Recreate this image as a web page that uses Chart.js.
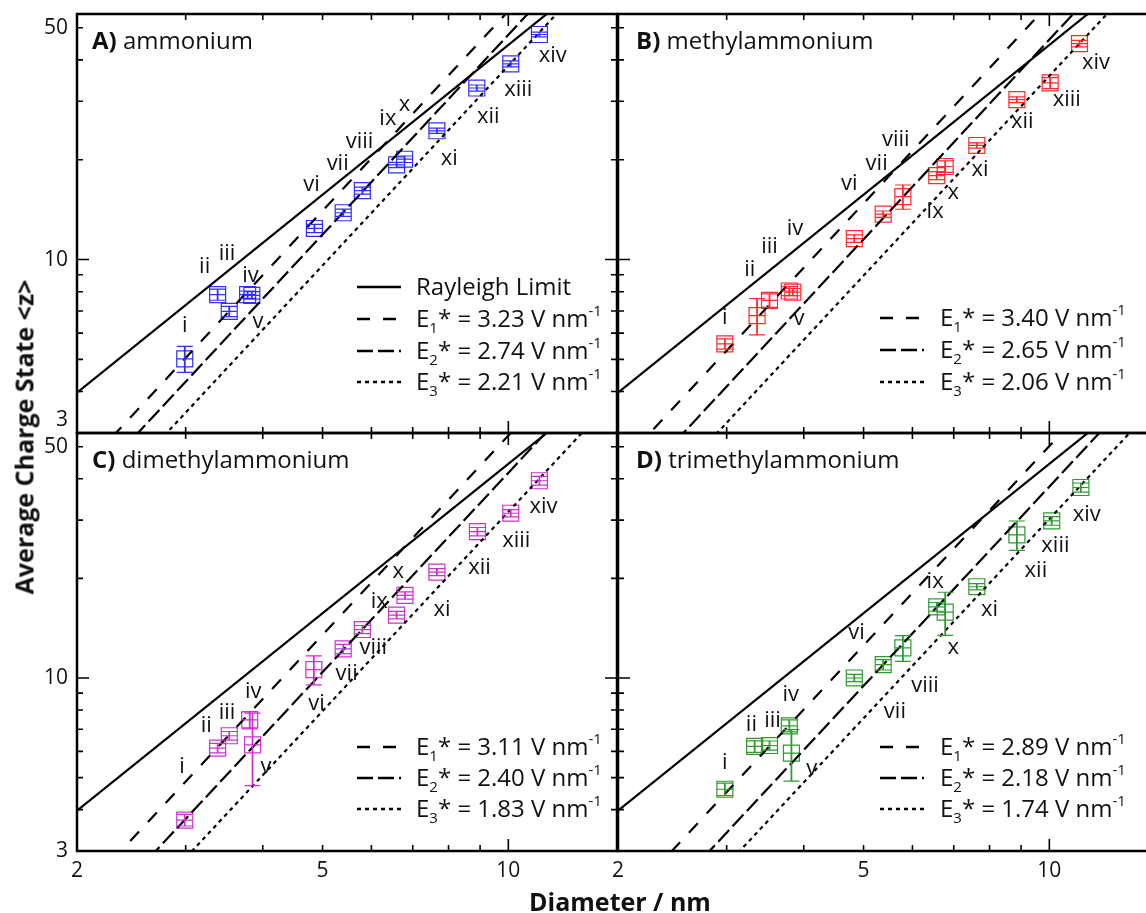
<!DOCTYPE html>
<html>
<head>
<meta charset="utf-8">
<script src="https://cdn.jsdelivr.net/npm/chart.js@4.4.0/dist/chart.umd.min.js"></script>
<style>
html, body { margin: 0; padding: 0; background: #fff; }
#wrap { position: relative; width: 1146px; height: 913px; overflow: hidden; font-family: "Open Sans", sans-serif; color: #111; }
#wrap canvas { position: absolute; left: 0; top: 0; }
.txt { position: absolute; white-space: nowrap; font-size: 24px; line-height: 24px; }
.txt b { font-weight: 700; }
.txt sub, .txt sup { position: relative; vertical-align: baseline; font-size: 15px; line-height: 0; }
.txt sub { top: 6px; }
.txt sup { top: -11px; }
.axtitle { position: absolute; white-space: nowrap; font-weight: 700; font-size: 25px; line-height: 25px; }
</style>
</head>
<body>
<div id="wrap">
  <canvas id="panelA" width="1160" height="913"></canvas>
  <canvas id="panelB" width="1160" height="913"></canvas>
  <canvas id="panelC" width="1160" height="913"></canvas>
  <canvas id="panelD" width="1160" height="913"></canvas>
  <div class="axtitle" style="left:620px; top:889px; transform:translateX(-50%);">Diameter / nm</div>
  <div class="axtitle" style="left:24px; top:437px; transform:translate(-50%,-50%) rotate(-90deg);">Average Charge State &lt;z&gt;</div>
</div>
<script>
// axis ticks (shared by all panels)
const diameterTicks = [2, 3, 4, 5, 6, 7, 8, 9, 10];
const diameterLabels = [2, 5, 10];
const chargeTicks = [3, 4, 5, 6, 7, 8, 9, 10, 20, 30, 40, 50];
const chargeLabels = [3, 10, 50];
const romans = ['i', 'ii', 'iii', 'iv', 'v', 'vi', 'vii', 'viii', 'ix', 'x', 'xi', 'xii', 'xiii', 'xiv'];

// model lines are straight on log-log axes: values read at d = 2 and d = 15 nm
const lineEnds = [2, 15];
const rayleighZ = [3.97, 81.5];

// A) ammonium
const dA = [2.99, 3.38, 3.53, 3.78, 3.84, 4.85, 5.40, 5.80, 6.59, 6.79, 7.66, 8.89, 10.09, 11.23];
const zA = [5.02, 7.84, 6.98, 7.84, 7.80, 12.41, 13.84, 16.14, 19.29, 20.07, 24.45, 32.9, 38.9, 47.7];
const zErrA = [0.45, 0.3, 0.25, 0.2, 0.2, 0.35, 0.35, 0.4, 0.35, 0.45, 0.45, 0.7, 0.8, 0.8];
const labDA = [2.99, 3.22, 3.50, 3.82, 3.93, 4.80, 5.29, 5.74, 6.38, 6.79, 8.02, 9.28, 10.38, 11.8];
const labZA = [6.33, 9.5, 10.4, 8.96, 6.48, 16.78, 19.5, 22.7, 26.5, 29.3, 20.2, 26.9, 32.5, 41.3];
const fieldA = [3.23, 2.74, 2.21];
const eLinesA = [[2.244, 126.3], [1.904, 107.1], [1.536, 86.4]];

// B) methylammonium
const dB = [2.98, 3.36, 3.52, 3.79, 3.84, 4.83, 5.38, 5.79, 6.57, 6.78, 7.63, 8.86, 10.03, 11.19];
const zB = [5.57, 6.78, 7.53, 8.04, 7.98, 11.57, 13.71, 15.48, 17.92, 19.08, 22.08, 30.34, 34.08, 44.8];
const zErrB = [0.2, 0.85, 0.35, 0.25, 0.2, 0.3, 0.3, 1.3, 0.5, 0.75, 0.4, 0.6, 1.3, 1.0];
const labDB = [2.98, 3.27, 3.52, 3.87, 3.93, 4.74, 5.25, 5.64, 6.53, 6.99, 7.72, 9.04, 10.67, 11.9];
const labZB = [6.68, 9.33, 10.93, 12.41, 6.63, 16.98, 19.42, 22.98, 13.94, 15.91, 18.62, 26.11, 30.23, 39.3];
const fieldB = [3.40, 2.65, 2.06];
const eLinesB = [[2.362, 132.9], [1.841, 103.6], [1.431, 80.5]];

// C) dimethylammonium
const dC = [2.99, 3.38, 3.53, 3.81, 3.85, 4.84, 5.40, 5.80, 6.59, 6.80, 7.66, 8.91, 10.09, 11.23];
const zC = [3.72, 6.14, 6.69, 7.47, 6.28, 10.6, 12.24, 14.01, 15.49, 17.76, 20.9, 27.7, 31.47, 39.45];
const zErrC = [0.15, 0.2, 0.2, 0.45, 1.55, 1.07, 0.4, 0.4, 0.4, 0.45, 0.5, 0.8, 0.8, 1.2];
const labDC = [2.96, 3.24, 3.50, 3.86, 4.05, 4.89, 5.47, 6.04, 6.18, 6.63, 7.81, 8.98, 10.3, 11.4];
const labZC = [5.40, 7.17, 7.87, 9.11, 5.40, 8.36, 10.3, 12.33, 16.97, 20.9, 16.03, 21.54, 25.95, 32.98];
const fieldC = [3.11, 2.40, 1.83];
const eLinesC = [[2.161, 121.5], [1.667, 93.8], [1.271, 71.5]];

// D) trimethylammonium
const dD = [2.98, 3.33, 3.52, 3.79, 3.82, 4.83, 5.38, 5.79, 6.57, 6.78, 7.63, 8.86, 10.09, 11.25];
const zD = [4.61, 6.21, 6.25, 7.17, 5.93, 10.0, 10.97, 12.33, 16.41, 15.81, 18.87, 27.06, 29.85, 37.64];
const zErrD = [0.2, 0.25, 0.2, 0.3, 1.05, 0.25, 0.4, 1.1, 0.5, 2.35, 0.4, 2.75, 0.9, 1.2];
const labDD = [2.98, 3.29, 3.56, 3.81, 4.12, 4.87, 5.62, 6.29, 6.53, 6.99, 8.0, 9.51, 10.23, 11.5];
const labZD = [5.53, 7.22, 7.44, 8.90, 5.3, 13.69, 7.93, 9.5, 19.5, 12.33, 16.1, 21.05, 25.18, 31.04];
const fieldD = [2.89, 2.18, 1.74];
const eLinesD = [[2.008, 112.9], [1.515, 85.2], [1.209, 68.0]];

// diameter uncertainty (same size bins i-xiv in every panel)
const dErr = [0.09, 0.1, 0.1, 0.11, 0.11, 0.14, 0.16, 0.17, 0.19, 0.2, 0.22, 0.26, 0.29, 0.32];

const W = 1160, H = 913;
const YAXIS_W = 60, XAXIS_H = 45;
const dashes = [[13, 13], [16, 5], [4, 4]];
const FONT = '"Open Sans", sans-serif';

function decoPlugin(p) {
    return {
        id: 'deco',
        afterDatasetsDraw(chart) {
            const ctx = chart.ctx, a = chart.chartArea;
            const x = chart.scales.x, y = chart.scales.y;
            ctx.save();
            // error bars
            ctx.strokeStyle = p.color;
            p.d.forEach((d, i) => {
                const px = x.getPixelForValue(d);
                const py = y.getPixelForValue(p.z[i]);
                const y0 = y.getPixelForValue(p.z[i] - p.zErr[i]);
                const y1 = y.getPixelForValue(p.z[i] + p.zErr[i]);
                ctx.lineWidth = 1.8;
                ctx.beginPath();
                ctx.moveTo(px, y0); ctx.lineTo(px, y1);
                ctx.stroke();
                ctx.lineWidth = 1.2;
                ctx.beginPath();
                ctx.moveTo(px - 8, y0); ctx.lineTo(px + 8, y0);
                ctx.moveTo(px - 8, y1); ctx.lineTo(px + 8, y1);
                ctx.moveTo(x.getPixelForValue(d - dErr[i]), py);
                ctx.lineTo(x.getPixelForValue(d + dErr[i]), py);
                ctx.stroke();
            });
            // point labels
            ctx.fillStyle = '#111';
            ctx.font = '22px ' + FONT;
            ctx.textAlign = 'center';
            ctx.textBaseline = 'middle';
            romans.forEach((r, i) => {
                ctx.fillText(r, x.getPixelForValue(p.labD[i]), y.getPixelForValue(p.labZ[i]));
            });
            // frame with inward ticks
            ctx.strokeStyle = '#000';
            ctx.lineWidth = 2.5;
            ctx.beginPath();
            ctx.rect(a.left, a.top, a.right - a.left, a.bottom - a.top);
            ctx.stroke();
            ctx.lineWidth = 1.6;
            ctx.beginPath();
            diameterTicks.forEach(v => {
                const px = x.getPixelForValue(v);
                const len = v === 10 ? 12 : 6;
                ctx.moveTo(px, a.bottom); ctx.lineTo(px, a.bottom - len);
                ctx.moveTo(px, a.top); ctx.lineTo(px, a.top + len);
            });
            chargeTicks.forEach(v => {
                const py = y.getPixelForValue(v);
                const len = v === 10 ? 12 : 6;
                ctx.moveTo(a.left, py); ctx.lineTo(a.left + len, py);
                ctx.moveTo(a.right, py); ctx.lineTo(a.right - len, py);
            });
            ctx.stroke();
            ctx.restore();
        }
    };
}

function makePanel(p) {
    const datasets = [{
        data: lineEnds.map((d, i) => ({ x: d, y: rayleighZ[i] })),
        showLine: true, borderColor: '#000', borderWidth: 2.2, pointRadius: 0
    }];
    p.eLines.forEach((ends, k) => {
        datasets.push({
            data: lineEnds.map((d, i) => ({ x: d, y: ends[i] })),
            showLine: true, borderColor: '#000', borderWidth: 2.2, borderDash: dashes[k], pointRadius: 0
        });
    });
    datasets.push({
        data: p.d.map((d, i) => ({ x: d, y: p.z[i] })),
        showLine: false, pointStyle: 'rect', pointRadius: 11.3,
        borderColor: p.color, backgroundColor: 'rgba(0,0,0,0)', borderWidth: 1.2
    });

    const yW = p.yLabels ? YAXIS_W : 0;
    const xH = p.xLabels ? XAXIS_H : 0;
    new Chart(document.getElementById(p.id), {
        type: 'scatter',
        data: { datasets: datasets },
        options: {
            responsive: false,
            animation: false,
            devicePixelRatio: 1,
            events: [],
            layout: {
                autoPadding: false,
                padding: { left: p.area[0] - yW, top: p.area[1], right: W - p.area[2], bottom: H - p.area[3] - xH }
            },
            plugins: { legend: { display: false }, tooltip: { enabled: false } },
            scales: {
                x: {
                    type: 'logarithmic', min: 2, max: 15,
                    grid: { display: false, drawTicks: false }, border: { display: false },
                    afterBuildTicks: s => { s.ticks = diameterTicks.map(v => ({ value: v })); },
                    afterFit: s => { s.height = xH; s.paddingLeft = 0; s.paddingRight = 0; },
                    ticks: {
                        display: p.xLabels, autoSkip: false, maxRotation: 0, padding: 7, color: '#111',
                        font: { family: FONT, size: 21 },
                        callback: v => diameterLabels.includes(v) ? String(v) : ''
                    }
                },
                y: {
                    type: 'logarithmic', min: 3, max: 55,
                    grid: { display: false, drawTicks: false }, border: { display: false },
                    afterBuildTicks: s => { s.ticks = chargeTicks.map(v => ({ value: v })); },
                    afterFit: s => { s.width = yW; s.paddingTop = 0; s.paddingBottom = 0; },
                    ticks: {
                        display: p.yLabels, autoSkip: false, padding: 9, color: '#111',
                        font: { family: FONT, size: 21 },
                        // the lowest label of an upper panel is lifted clear of the panel below
                        callback: v => chargeLabels.includes(v) ? (v === 3 && p.upper ? ['3', ''] : String(v)) : ''
                    }
                }
            }
        },
        plugins: [decoPlugin(p)]
    });

    // panel title and legend as page text
    const wrap = document.getElementById('wrap');
    const title = document.createElement('div');
    title.className = 'txt';
    title.style.left = p.titleX + 'px';
    title.style.top = (p.area[1] + 35 - 21.3) + 'px';
    title.innerHTML = '<b>' + p.letter + ')</b> ' + p.name;
    wrap.appendChild(title);

    const rows = [];
    if (p.rayleigh) rows.push({ dash: [], html: 'Rayleigh Limit' });
    p.field.forEach((e, k) => rows.push({
        dash: dashes[k],
        html: 'E<sub>' + (k + 1) + '</sub>* = ' + e.toFixed(2) + ' V nm<sup>-1</sup>'
    }));
    rows.forEach((r, k) => {
        const yc = p.legendY[k];
        const svg = document.createElementNS('http://www.w3.org/2000/svg', 'svg');
        svg.setAttribute('width', '44');
        svg.setAttribute('height', '6');
        svg.style.position = 'absolute';
        svg.style.left = p.legendX + 'px';
        svg.style.top = (yc - 3) + 'px';
        const ln = document.createElementNS('http://www.w3.org/2000/svg', 'line');
        ln.setAttribute('x1', '0'); ln.setAttribute('y1', '3');
        ln.setAttribute('x2', '44'); ln.setAttribute('y2', '3');
        ln.setAttribute('stroke', '#000'); ln.setAttribute('stroke-width', '2.4');
        if (r.dash.length) ln.setAttribute('stroke-dasharray', r.dash.join(' '));
        svg.appendChild(ln);
        wrap.appendChild(svg);
        const t = document.createElement('div');
        t.className = 'txt';
        t.style.left = (p.legendX + p.legendGap) + 'px';
        t.style.top = (yc + 8 - 21.3) + 'px';
        t.innerHTML = r.html;
        wrap.appendChild(t);
    });
}

makePanel({ id: 'panelA', letter: 'A', name: 'ammonium', color: '#2f2fff', area: [77, 14, 617, 433], upper: true,
    d: dA, z: zA, zErr: zErrA, labD: labDA, labZ: labZA, eLines: eLinesA, field: fieldA,
    rayleigh: true, legendX: 357, legendGap: 59, legendY: [287, 319, 351, 382], titleX: 92, xLabels: false, yLabels: true });
makePanel({ id: 'panelB', letter: 'B', name: 'methylammonium', color: '#ff2a2a', area: [618, 14, 1158, 433], upper: true,
    d: dB, z: zB, zErr: zErrB, labD: labDB, labZ: labZB, eLines: eLinesB, field: fieldB,
    rayleigh: false, legendX: 880, legendGap: 60, legendY: [318, 350, 382], titleX: 636, xLabels: false, yLabels: false });
makePanel({ id: 'panelC', letter: 'C', name: 'dimethylammonium', color: '#cc33cc', area: [77, 433, 617, 851], upper: false,
    d: dC, z: zC, zErr: zErrC, labD: labDC, labZ: labZC, eLines: eLinesC, field: fieldC,
    rayleigh: false, legendX: 357, legendGap: 59, legendY: [747, 778, 809], titleX: 92, xLabels: true, yLabels: true });
makePanel({ id: 'panelD', letter: 'D', name: 'trimethylammonium', color: '#2f9a2f', area: [618, 433, 1158, 851], upper: false,
    d: dD, z: zD, zErr: zErrD, labD: labDD, labZ: labZD, eLines: eLinesD, field: fieldD,
    rayleigh: false, legendX: 880, legendGap: 60, legendY: [747, 778, 809], titleX: 636, xLabels: true, yLabels: false });
</script>
</body>
</html>
